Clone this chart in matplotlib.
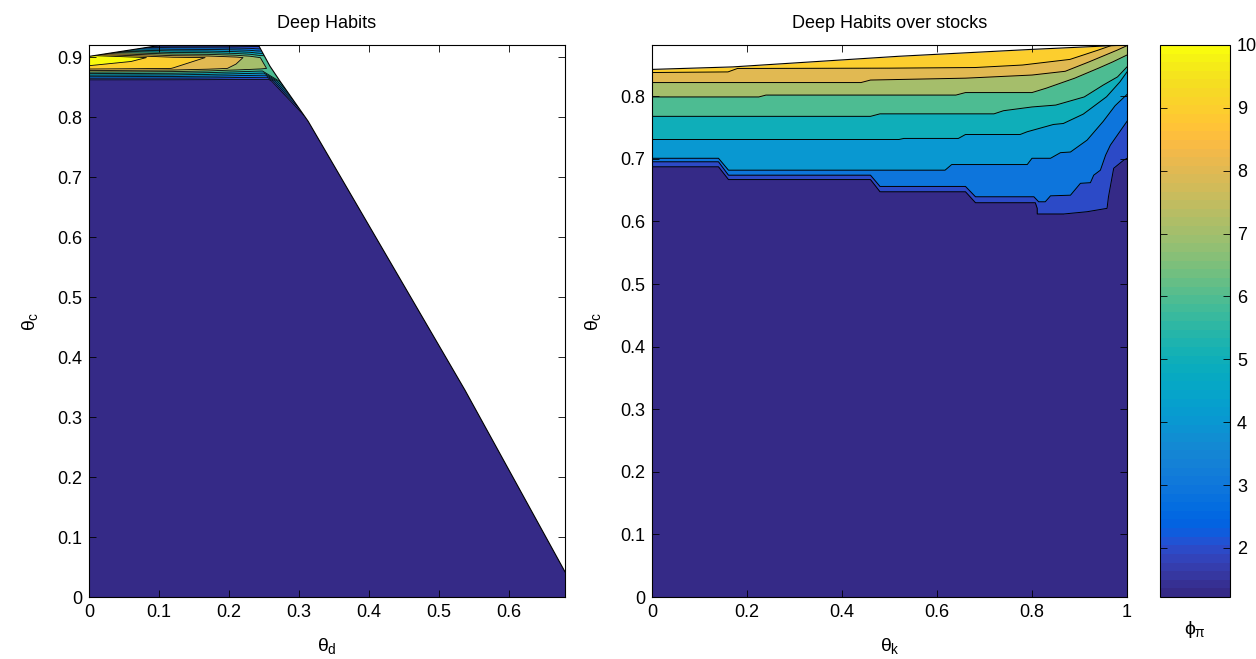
import numpy as np
import matplotlib
matplotlib.use("Agg")
import matplotlib.pyplot as plt
from matplotlib.colors import ListedColormap, Normalize
from matplotlib.patches import Polygon
from matplotlib.cm import ScalarMappable
from matplotlib.ticker import FormatStrFormatter

plt.rcParams['font.family'] = ['Liberation Sans', 'DejaVu Sans']
plt.rcParams['mathtext.fontset'] = 'custom'
plt.rcParams['mathtext.rm'] = 'Liberation Sans'
plt.rcParams['mathtext.it'] = 'Liberation Sans'
plt.rcParams['mathtext.bf'] = 'Liberation Sans:bold'

# ---------------- style: MATLAB parula colormap (64 entries) ----------------
PARULA = [
    (0.2081, 0.1663, 0.5292), (0.2116, 0.1898, 0.5777), (0.2123, 0.2138, 0.6270), (0.2081, 0.2386, 0.6771),
    (0.1959, 0.2645, 0.7279), (0.1707, 0.2919, 0.7792), (0.1253, 0.3242, 0.8303), (0.0591, 0.3598, 0.8683),
    (0.0117, 0.3875, 0.8820), (0.0060, 0.4086, 0.8828), (0.0165, 0.4266, 0.8786), (0.0329, 0.4430, 0.8720),
    (0.0498, 0.4586, 0.8641), (0.0629, 0.4737, 0.8554), (0.0723, 0.4887, 0.8467), (0.0779, 0.5040, 0.8384),
    (0.0793, 0.5200, 0.8312), (0.0749, 0.5375, 0.8263), (0.0641, 0.5570, 0.8240), (0.0488, 0.5772, 0.8228),
    (0.0343, 0.5966, 0.8199), (0.0265, 0.6137, 0.8135), (0.0239, 0.6287, 0.8038), (0.0231, 0.6418, 0.7913),
    (0.0228, 0.6535, 0.7768), (0.0267, 0.6642, 0.7607), (0.0384, 0.6743, 0.7436), (0.0590, 0.6838, 0.7254),
    (0.0843, 0.6928, 0.7062), (0.1133, 0.7015, 0.6859), (0.1453, 0.7098, 0.6646), (0.1801, 0.7177, 0.6424),
    (0.2178, 0.7250, 0.6193), (0.2586, 0.7317, 0.5954), (0.3022, 0.7376, 0.5712), (0.3482, 0.7424, 0.5473),
    (0.3953, 0.7459, 0.5244), (0.4420, 0.7481, 0.5033), (0.4871, 0.7491, 0.4840), (0.5300, 0.7491, 0.4661),
    (0.5709, 0.7485, 0.4494), (0.6099, 0.7473, 0.4337), (0.6473, 0.7456, 0.4188), (0.6834, 0.7435, 0.4044),
    (0.7184, 0.7411, 0.3905), (0.7525, 0.7384, 0.3768), (0.7858, 0.7356, 0.3633), (0.8185, 0.7327, 0.3498),
    (0.8507, 0.7299, 0.3360), (0.8824, 0.7274, 0.3217), (0.9139, 0.7258, 0.3063), (0.9450, 0.7261, 0.2886),
    (0.9739, 0.7314, 0.2666), (0.9938, 0.7455, 0.2403), (0.9990, 0.7653, 0.2164), (0.9955, 0.7861, 0.1967),
    (0.9880, 0.8066, 0.1794), (0.9789, 0.8271, 0.1633), (0.9697, 0.8481, 0.1475), (0.9626, 0.8705, 0.1309),
    (0.9589, 0.8949, 0.1132), (0.9598, 0.9218, 0.0948), (0.9661, 0.9514, 0.0755), (0.9763, 0.9831, 0.0538),
]

# ---------------- data ----------------
phi_min, phi_max = 1.22, 10.0
contour_levels = [2, 3, 4, 5, 6, 7, 8, 9, 10]
cbar_ticks = [2, 3, 4, 5, 6, 7, 8, 9, 10]

# Left panel: phi_pi on a (theta_c rows) x (theta_d columns) grid
left_theta_c = [0.0, 0.345, 0.793, 0.86, 0.881, 0.899, 0.92]
left_theta_d = [
    [0.0, 0.06, 0.12, 0.17, 0.21, 0.23, 0.660, 0.720],
    [0.0, 0.06, 0.12, 0.17, 0.21, 0.23, 0.520, 0.580],
    [0.0, 0.06, 0.12, 0.17, 0.21, 0.23, 0.308, 0.313],
    [0.0, 0.06, 0.12, 0.17, 0.21, 0.23, 0.2586, 0.273],
    [0.0, 0.06, 0.12, 0.17, 0.21, 0.23, 0.245, 0.2605],
    [0.0, 0.06, 0.12, 0.17, 0.21, 0.23, 0.243, 0.2516],
    [0.0, 0.06, 0.12, 0.17, 0.21, 0.23, 0.236, 0.242],
]
left_phi = [
    [1.22, 1.22, 1.22, 1.22, 1.22, 1.22, 1.22, 1.22],
    [1.22, 1.22, 1.22, 1.22, 1.22, 1.22, 1.22, 1.22],
    [1.22, 1.22, 1.22, 1.22, 1.22, 1.22, 1.22, 1.22],
    [1.22, 1.22, 1.22, 1.22, 1.22, 1.22, 1.22, 6.6],
    [9.4, 9.2, 8.99, 8.45, 7.8, 7.5, 7.25, 6.8],
    [11.8, 10.45, 9.22, 8.98, 8.3, 7.7, 7.05, 6.8],
    [1.3, 1.3, 1.3, 1.3, 1.3, 1.3, 1.3, 1.3],
]
# determinacy frontier (left panel)
left_edge_d = [0.0, 0.68, 0.68, 0.537, 0.313, 0.273, 0.2586, 0.242, 0.105, 0.0]
left_edge_c = [0.0, 0.0, 0.042, 0.345, 0.793, 0.8595, 0.8845, 0.92, 0.92, 0.901]

# Right panel: frontier (top) and contour boundaries phi_pi = 9 ... 2
right_top_k = [0.0, 0.17, 0.52, 0.80, 0.97, 1.0]
right_top_c = [0.843, 0.847, 0.864, 0.875, 0.881, 0.882]

b9_k = [0, 0.16, 0.18, 0.50, 0.68, 0.78, 0.88, 0.94, 0.97, 1.0]
b9_c = [0.838, 0.839, 0.8445, 0.845, 0.846, 0.850, 0.859, 0.874, 0.882, 0.886]
b8_k = [0, 0.44, 0.46, 0.66, 0.80, 0.87, 0.92, 0.98, 1.0]
b8_c = [0.822, 0.822, 0.826, 0.829, 0.834, 0.840, 0.855, 0.874, 0.881]
b7_k = [0, 0.225, 0.24, 0.64, 0.66, 0.80, 0.83, 0.89, 0.94, 0.97, 1.0]
b7_c = [0.799, 0.799, 0.802, 0.802, 0.806, 0.806, 0.813, 0.829, 0.845, 0.855, 0.866]
b6_k = [0, 0.46, 0.48, 0.72, 0.74, 0.80, 0.85, 0.91, 0.95, 0.98, 1.0]
b6_c = [0.768, 0.768, 0.772, 0.772, 0.777, 0.783, 0.786, 0.799, 0.818, 0.831, 0.847]
b5_k = [0, 0.52, 0.53, 0.645, 0.66, 0.775, 0.79, 0.845, 0.866, 0.908, 0.957, 0.985, 1.0]
b5_c = [0.731, 0.731, 0.7327, 0.7327, 0.739, 0.739, 0.7434, 0.755, 0.7566, 0.7716, 0.7993, 0.823, 0.839]
b4_k = [0, 0.14, 0.161, 0.617, 0.631, 0.79, 0.80, 0.839, 0.86, 0.881, 0.916, 0.95, 0.975, 1.0]
b4_c = [0.701, 0.701, 0.682, 0.682, 0.691, 0.691, 0.701, 0.701, 0.710, 0.711, 0.730, 0.76, 0.785, 0.803]
b3_k = [0, 0.14, 0.161, 0.46, 0.48, 0.660, 0.681, 0.804, 0.814, 0.828, 0.839, 0.881, 0.902, 0.923,
        0.930, 0.944, 0.955, 0.965, 1.0]
b3_c = [0.6954, 0.6954, 0.674, 0.674, 0.656, 0.656, 0.6395, 0.6395, 0.6315, 0.6315, 0.641, 0.642,
        0.661, 0.662, 0.674, 0.682, 0.706, 0.722, 0.76]
b2_k = [0, 0.14, 0.161, 0.46, 0.48, 0.660, 0.681, 0.807, 0.811, 0.811, 0.867, 0.916, 0.958, 0.961,
        0.972, 0.993, 1.0]
b2_c = [0.6874, 0.6874, 0.667, 0.667, 0.6475, 0.6475, 0.630, 0.630, 0.621, 0.612, 0.612, 0.6156,
        0.621, 0.6395, 0.685, 0.698, 0.7008]

right_bounds = [(9, b9_k, b9_c), (8, b8_k, b8_c), (7, b7_k, b7_c), (6, b6_k, b6_c),
                (5, b5_k, b5_c), (4, b4_k, b4_c), (3, b3_k, b3_c), (2, b2_k, b2_c)]

# ---------------- figure ----------------
W, H = 1256, 659
fig = plt.figure(figsize=(W / 100, H / 100), dpi=100)

cmap = ListedColormap(PARULA)
norm = Normalize(phi_min, phi_max)


def col(v):
    return cmap(norm(v))


def px_axes(x0, x1, y0, y1):
    return fig.add_axes([x0 / W, 1 - y1 / H, (x1 - x0) / W, (y1 - y0) / H])


FS = 13
CB_X0, CB_X1 = 1160, 1230
ax1 = px_axes(89, 565, 45, 597)
ax2 = px_axes(652, 1127, 45, 597)
cax = px_axes(CB_X0, CB_X1, 45, 597)

# ---- left panel ----
X = np.array(left_theta_d)
Y = np.array(left_theta_c)[:, None] * np.ones_like(X)
Z = np.array(left_phi)
fill_levels = [0] + contour_levels + [20]
fill_colors = [col(phi_min)] + [col(v) for v in contour_levels]
clip1 = Polygon(np.column_stack([left_edge_d, left_edge_c]), closed=True, transform=ax1.transData)
cs = ax1.contourf(X, Y, Z, levels=fill_levels, colors=fill_colors, antialiased=True)
cs.set_clip_path(clip1)
cl = ax1.contour(X, Y, Z, levels=contour_levels, colors='k', linewidths=0.6)
cl.set_clip_path(clip1)
ax1.plot(left_edge_d[2:8], left_edge_c[2:8], color='k', lw=0.8)
ax1.plot(left_edge_d[8:], left_edge_c[8:], color='k', lw=0.8)
ax1.set_xlim(0, 0.68)
ax1.set_ylim(0, 0.92)
ax1.set_xticks([0, 0.1, 0.2, 0.3, 0.4, 0.5, 0.6])
ax1.set_yticks([0, 0.1, 0.2, 0.3, 0.4, 0.5, 0.6, 0.7, 0.8, 0.9])
ax1.set_title('Deep Habits', fontsize=FS, pad=12)
ax1.set_xlabel(r'$\theta_\mathrm{d}$', fontsize=FS + 1, labelpad=11)
ax1.set_ylabel(r'$\theta_\mathrm{c}$', fontsize=FS + 1, labelpad=12)

# ---- right panel ----
feas = np.column_stack([[0.0, 1.0] + right_top_k[::-1], [0.0, 0.0] + right_top_c[::-1]])
clip2 = Polygon(feas, closed=True, transform=ax2.transData)
top_fill = ax2.fill_between(right_top_k, 0, right_top_c, color=col(9), lw=0)
top_fill.set_clip_path(clip2)
for lev, bk, bc in right_bounds:
    below = lev - 1 if lev > 2 else phi_min
    f = ax2.fill_between(bk, 0, bc, color=col(below), lw=0)
    f.set_clip_path(clip2)
for lev, bk, bc in right_bounds:
    ln, = ax2.plot(bk, bc, color='k', lw=0.7)
    ln.set_clip_path(clip2)
ax2.plot(right_top_k, right_top_c, color='k', lw=0.8)
ax2.set_xlim(0, 1)
ax2.set_ylim(0, 0.882)
ax2.set_xticks([0, 0.2, 0.4, 0.6, 0.8, 1.0])
ax2.set_yticks([0, 0.1, 0.2, 0.3, 0.4, 0.5, 0.6, 0.7, 0.8])
ax2.set_title('Deep Habits over stocks', fontsize=FS, pad=12)
ax2.set_xlabel(r'$\theta_\mathrm{k}$', fontsize=FS + 1, labelpad=11)
ax2.set_ylabel(r'$\theta_\mathrm{c}$', fontsize=FS + 1, labelpad=12)

for ax in (ax1, ax2):
    ax.xaxis.set_major_formatter(FormatStrFormatter('%g'))
    ax.yaxis.set_major_formatter(FormatStrFormatter('%g'))
    ax.tick_params(direction='in', length=5, width=0.6, top=True, right=True, labelsize=FS, pad=5)
    for s in ax.spines.values():
        s.set_linewidth(0.8)
        s.set_zorder(10)

# ---- colorbar ----
sm = ScalarMappable(norm=norm, cmap=cmap)
cb = fig.colorbar(sm, cax=cax, ticks=cbar_ticks)
cb.outline.set_linewidth(0.8)
cax.tick_params(direction='in', length=5, width=0.6, left=True, right=True, labelsize=FS, pad=5)
cax.set_yticklabels([str(t) for t in cbar_ticks])
fig.text((CB_X0 + CB_X1) / 2 / W, 1 - 630 / H, r'$\phi_\pi$', ha='center', va='center', fontsize=FS + 1)

fig.savefig('out.png', dpi=100)
